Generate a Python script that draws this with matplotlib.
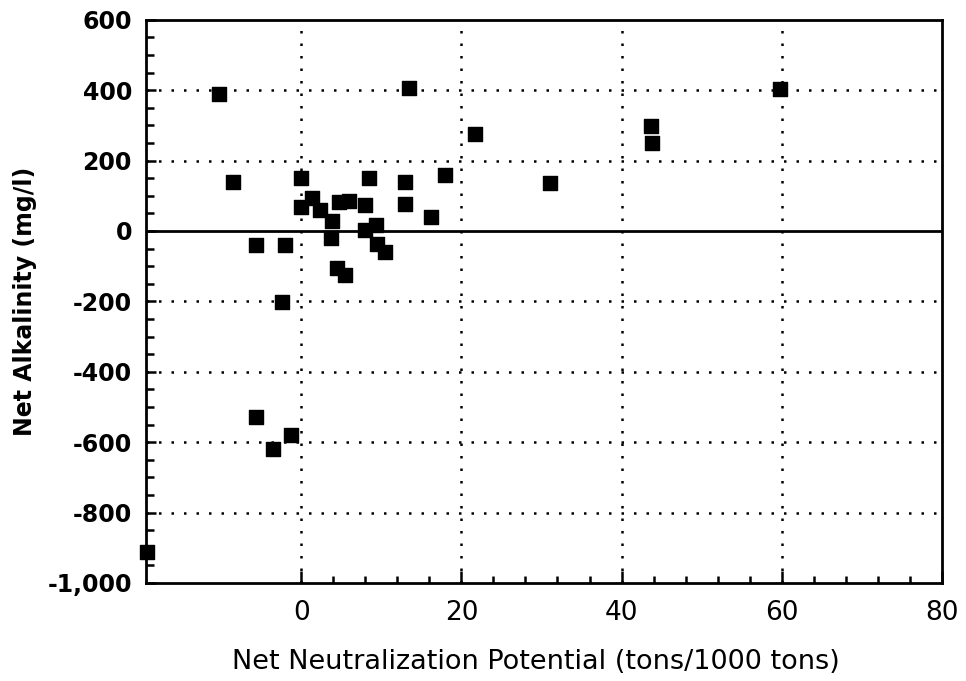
import matplotlib
matplotlib.use("Agg")
import matplotlib.pyplot as plt
from matplotlib.ticker import FixedLocator, FuncFormatter

# net neutralization potential (tons/1000 tons) vs net alkalinity (mg/l)
nnp = [-10.3, 13.5, 21.7, -8.5, 0.0, 8.5, 13.0, 18.0, 0.0, 1.3, 2.3, 4.75,
       6.0, 8.0, 13.0, 16.25, 3.9, 3.75, 8.0, 9.3, 9.5, 10.4, -5.7, -2.0,
       4.5, 5.5, -2.4, 31.1, 43.7, 43.8, 59.8, -5.7, -3.5, -1.25, -19.3]
alk = [389, 406, 276, 139, 150, 150, 139, 158, 68, 94, 59, 82,
       84, 75, 77, 39, 27, -20, 4, 16, -37, -60, -39, -39,
       -105, -124, -201, 136, 297, 250, 404, -530, -620, -581, -913]

x_ticks = [0, 20, 40, 60, 80]
y_ticks = [-1000, -800, -600, -400, -200, 0, 200, 400, 600]

fig, ax = plt.subplots(figsize=(9.66, 6.81), dpi=100)
fig.subplots_adjust(left=0.151, right=0.975, bottom=0.144, top=0.971)

# dotted grid, solid zero line
for xv in x_ticks[:-1]:
    ax.axvline(xv, color='black', lw=1.8, ls=(0, (1, 4)), zorder=1)
for yv in y_ticks[1:-1]:
    if yv != 0:
        ax.axhline(yv, color='black', lw=1.8, ls=(0, (1, 4)), zorder=1)
ax.axhline(0, color='black', lw=2, zorder=2)

ax.scatter(nnp, alk, marker='s', s=90, color='black', zorder=3, clip_on=False)

ax.set_xlim(-19.4, 80)
ax.set_ylim(-1000, 600)
ax.set_xticks(x_ticks)
ax.set_yticks(y_ticks)
ax.xaxis.set_minor_locator(FixedLocator([v for v in range(4, 80, 4) if v % 20]))
ax.yaxis.set_minor_locator(FixedLocator([v for v in range(-950, 600, 50) if v % 200]))
ax.yaxis.set_major_formatter(FuncFormatter(lambda v, p: f'{v:,.0f}'))

ax.tick_params(which='both', direction='in', colors='black', width=1.8)
ax.tick_params(axis='x', which='major', length=9, pad=12, labelsize=19)
ax.tick_params(axis='x', which='minor', length=5)
ax.tick_params(axis='y', which='major', length=7, pad=10, labelsize=17)
ax.tick_params(axis='y', which='minor', length=6)
for lab in ax.get_yticklabels():
    lab.set_fontweight('bold')

for sp in ax.spines.values():
    sp.set_linewidth(2)
    sp.set_color('black')

ax.set_xlabel('Net Neutralization Potential (tons/1000 tons)', fontsize=19.5)
ax.set_ylabel('Net Alkalinity (mg/l)', fontsize=17, fontweight='bold')
ax.xaxis.set_label_coords(0.49, -0.118)
ax.yaxis.set_label_coords(-0.137, 0.5)

fig.savefig('out.png', dpi=100)
